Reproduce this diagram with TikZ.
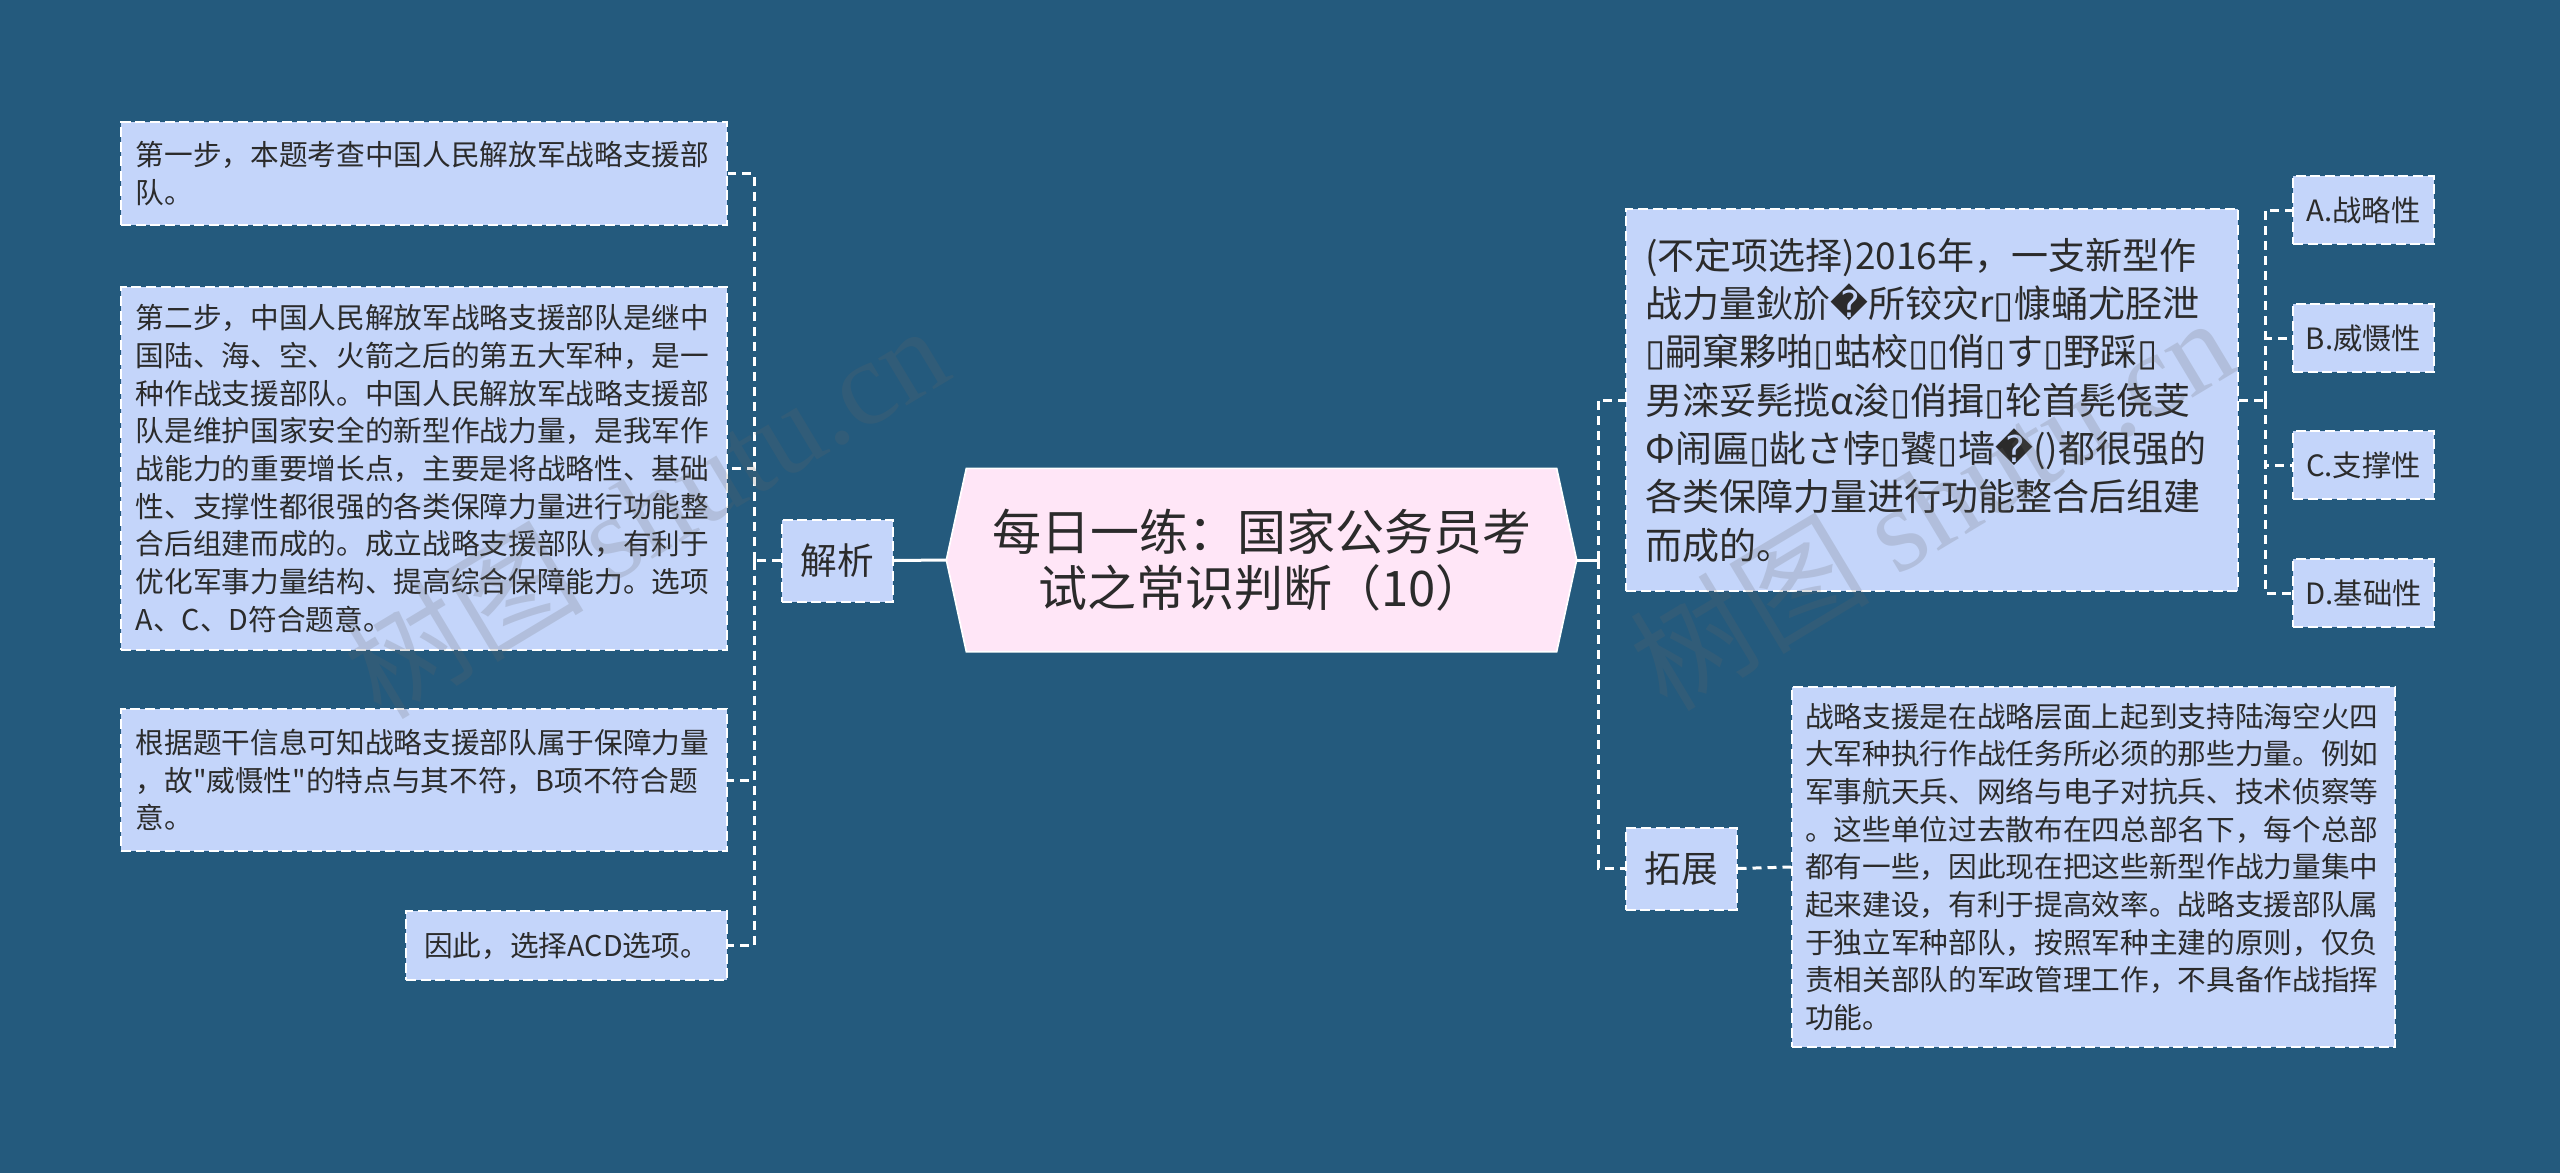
\documentclass[tikz,border=0pt]{standalone}
\usepackage{fontspec}
\setmainfont{Noto Sans CJK SC}
\newfontfamily\plaincjk{Noto Sans CJK SC}
\newfontfamily\dejavu{DejaVu Sans}
\newfontfamily\wmserif{Liberation Serif}
\usetikzlibrary{positioning}
\definecolor{bgblue}{HTML}{245A7D}
\definecolor{leafblue}{HTML}{C4D5FA}
\definecolor{rootpink}{HTML}{FFE6F7}
\definecolor{ink}{HTML}{2B2B2B}
\newcommand\tofu{{\dejavu ▯}}
\newcommand\badch{{\dejavu �}}
\newcommand\dq{{\plaincjk "}}
\pgfdeclarelayer{bg}
\pgfsetlayers{bg,main}

\begin{document}
\begin{tikzpicture}[
  x=0.3pt, y=-0.3pt,
  box/.style={draw=white, dash pattern=on 3pt off 1.4pt, line width=0.6pt,
              fill=leafblue, text=ink, inner sep=0pt, align=left},
  leaf/.style={box, font=\fontsize{8.6}{11.3}\selectfont, text width=173pt,
               minimum width=181.8pt},
  tag/.style={box, font=\fontsize{11}{13}\selectfont, align=center,
              minimum width=33.3pt, minimum height=24.6pt},
  opt/.style={box, font=\fontsize{8.8}{10}\selectfont, align=center,
              minimum width=42.3pt, minimum height=20.4pt},
  root/.style={text=ink, font=\fontsize{14.7}{16.7}\selectfont, align=center,
               inner sep=0pt, minimum width=188.7pt, minimum height=54.6pt},
  ln/.style={white, line width=0.9pt},
  dl/.style={ln, dash pattern=on 2.7pt off 1.8pt},
  wm/.style={text=black!60, text opacity=0.2, rotate=31,
             font=\fontsize{36}{36}\selectfont},
]
\begin{pgfonlayer}{bg}
\fill[bgblue] (0,0) rectangle (2560,1173);
\end{pgfonlayer}
\useasboundingbox (0,0) rectangle (2560,1173);

\node[root] (root) at (1261.5,560) {每日一练：国家公务员考\\试之常识判断（10）};
\begin{pgfonlayer}{bg}
\filldraw[fill=rootpink, draw=white, line width=0.5pt]
  (root.west) -- ([xshift=6pt]root.north west) -- ([xshift=-6pt]root.north east)
  -- (root.east) -- ([xshift=-6pt]root.south east) -- ([xshift=6pt]root.south west) -- cycle;
\end{pgfonlayer}

\node[tag] (jx) at (837.5,560.5) {解析};
\node[leaf, minimum height=30.9pt, anchor=east] (s1) at (728,173.5)
  {第一步，本题考查中国人民解放军战略支援部\\队。};
\node[leaf, minimum height=108.9pt, anchor=east] (s2) at (728,468.5)
  {第二步，中国人民解放军战略支援部队是继中\\国陆、海、空、火箭之后的第五大军种，是一\\种作战支援部队。中国人民解放军战略支援部\\队是维护国家安全的新型作战力量，是我军作\\战能力的重要增长点，主要是将战略性、基础\\性、支撑性都很强的各类保障力量进行功能整\\合后组建而成的。成立战略支援部队，有利于\\优化军事力量结构、提高综合保障能力。选项\\A、C、D符合题意。};
\node[leaf, minimum height=42.6pt, anchor=east] (s3) at (728,780)
  {根据题干信息可知战略支援部队属于保障力量\\，故\dq 威慑性\dq 的特点与其不符，B项不符合题\\意。};
\node[box, font=\fontsize{8.6}{10}\selectfont, align=center, minimum width=96.3pt,
      minimum height=20.7pt, anchor=east] (s4) at (728,945.5) {因此，选择ACD选项。};

\node[box, font=\fontsize{11.1}{14.5}\selectfont, text width=172pt, minimum width=183.6pt,
      minimum height=114.6pt, anchor=west] (q) at (1625,400)
  {(不定项选择)2016年，一支新型作\\战力量鈥斺\badch 所铰灾r\tofu 慷蛹尤胫泄\\\tofu 嗣窠夥啪\tofu 蛄校\tofu\tofu 俏\tofu す\tofu 野踩\tofu\\男滦妥髡揽α浚\tofu 俏揖\tofu 轮首髡侥芰\\Φ闹匾\tofu 龀さ悖\tofu 饕\tofu 墙\badch()都很强的\\各类保障力量进行功能整合后组建\\而成的。};
\node[opt, anchor=west] (oa) at (2292,210) {A.战略性};
\node[opt, anchor=west] (ob) at (2292,338) {B.威慑性};
\node[opt, anchor=west] (oc) at (2292,465) {C.支撑性};
\node[opt, anchor=west] (od) at (2292,593) {D.基础性};

\node[tag] (tz) at (1681,868.5) {拓展};
\node[leaf, minimum height=108pt, minimum width=180.9pt, anchor=west] (ext) at (1791,867)
  {战略支援是在战略层面上起到支持陆海空火四\\大军种执行作战任务所必须的那些力量。例如\\军事航天兵、网络与电子对抗兵、技术侦察等\\。这些单位过去散布在四总部名下，每个总部\\都有一些，因此现在把这些新型作战力量集中\\起来建设，有利于提高效率。战略支援部队属\\于独立军种部队，按照军种主建的原则，仅负\\责相关部队的军政管理工作，不具备作战指挥\\功能。};

\coordinate (lj) at (754,560.5);
\coordinate (rj) at (1598,560);
\coordinate (qj) at (2265,400);

\draw[ln] (root.west) -- (jx.east);
\draw[dl] (jx.west) -- (lj);
\foreach \n in {s1,s2,s3,s4} \draw[dl] (lj) |- (\n.east);
\draw[ln] (root.east) -- (rj);
\draw[dl] (rj) |- (q.west);
\draw[dl] (rj) |- (tz.west);
\draw[dl] (q.east) -- (qj);
\foreach \n in {oa,ob,oc,od} \draw[dl] (qj) |- (\n.west);
\draw[dl] (tz.east) -- (ext.west);

\node[wm] (wm1) at (645,510) {树图 {\wmserif shutu.cn}};
\node[wm] (wm2) at (1931,502) {树图 {\wmserif shutu.cn}};
\end{tikzpicture}
\end{document}
